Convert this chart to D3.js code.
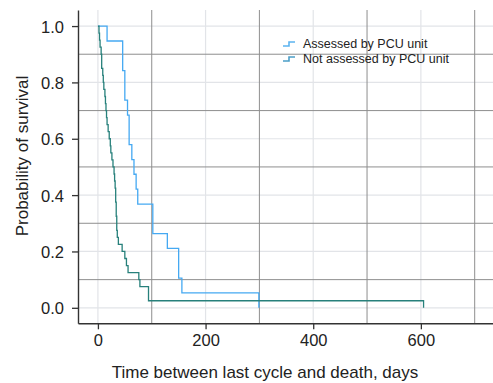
<!DOCTYPE html>
<html lang="en">
<head>
    <meta charset="UTF-8">
    <title>Survival</title>
    <style>
        body { margin: 0; background: #fff; }
        text { font-family: "Liberation Sans", Arial, sans-serif; fill: #222; }
    </style>
</head>
<body>
<script src="https://cdn.jsdelivr.net/npm/d3@7"></script>
<script>
    // Kaplan-Meier steps (day, survival after the step)
    var assessedDays = [0, 17, 46, 50, 55, 58, 63, 67, 71, 74, 102, 129, 150, 156, 299];
    var assessedSurv = [1, 0.947, 0.842, 0.737, 0.684, 0.579, 0.526, 0.474, 0.421, 0.368, 0.263, 0.211, 0.105, 0.053, 0];

    var notAssessedDays = [0, 2, 3, 4, 6, 7, 9, 10, 11, 13, 14, 15, 16, 17, 19, 21, 23, 24, 26, 28, 30, 31, 32, 33, 34, 35, 36, 38, 45, 50, 53, 56, 76, 78, 94, 605];
    var notAssessedSurv = [1, 0.975, 0.95, 0.925, 0.9, 0.85, 0.825, 0.8, 0.775, 0.75, 0.725, 0.7, 0.675, 0.65, 0.625, 0.6, 0.575, 0.55, 0.525, 0.5, 0.475, 0.45, 0.425, 0.375, 0.325, 0.275, 0.25, 0.225, 0.2, 0.175, 0.15, 0.125, 0.1, 0.075, 0.025, 0];

    var seriesNames = ['Assessed by PCU unit', 'Not assessed by PCU unit'];
    var seriesColors = ['#45a9f2', '#27807b'];
    var legendColors = ['#5cb4f0', '#4b9ec8'];

    var xTicks = [0, 200, 400, 600];
    var yTicks = [0, 0.2, 0.4, 0.6, 0.8, 1.0];
    var xLightGrid = [0, 200, 400, 600];
    var xDarkGrid = [100, 300, 500, 700];
    var yDarkGrid = [0.1, 0.3, 0.5, 0.7, 0.9];

    var W = 493, H = 383;
    var pLeft = 78, pRight = 493, pTop = 10, pBottom = 323.3;

    var x = d3.scaleLinear().domain([-37, 734]).range([pLeft, pRight]);
    var y = d3.scaleLinear().domain([-0.055, 1.057]).range([pBottom, pTop]);

    var svg = d3.select('body').append('svg')
        .attr('width', W)
        .attr('height', H);

    // grid
    var grid = svg.append('g');
    grid.selectAll('.vl').data(xLightGrid).enter().append('line')
        .attr('x1', function (d) { return x(d); })
        .attr('x2', function (d) { return x(d); })
        .attr('y1', pTop).attr('y2', pBottom)
        .attr('stroke', '#e2e4e8').attr('stroke-width', 1.2);
    grid.selectAll('.hl').data(yTicks).enter().append('line')
        .attr('x1', pLeft).attr('x2', pRight)
        .attr('y1', function (d) { return y(d); })
        .attr('y2', function (d) { return y(d); })
        .attr('stroke', '#e2e4e8').attr('stroke-width', 1.2);
    grid.selectAll('.vd').data(xDarkGrid).enter().append('line')
        .attr('x1', function (d) { return x(d); })
        .attr('x2', function (d) { return x(d); })
        .attr('y1', pTop).attr('y2', pBottom)
        .attr('stroke', '#8e8e8e').attr('stroke-width', 1);
    grid.selectAll('.hd').data(yDarkGrid).enter().append('line')
        .attr('x1', pLeft).attr('x2', pRight)
        .attr('y1', function (d) { return y(d); })
        .attr('y2', function (d) { return y(d); })
        .attr('stroke', '#8e8e8e').attr('stroke-width', 1);

    // curves
    var line = d3.line()
        .x(function (d) { return x(d[0]); })
        .y(function (d) { return y(d[1]); })
        .curve(d3.curveStepAfter);

    var curves = [
        d3.zip(assessedDays, assessedSurv),
        d3.zip(notAssessedDays, notAssessedSurv)
    ];

    svg.selectAll('.km').data(curves).enter().append('path')
        .attr('d', line)
        .attr('fill', 'none')
        .attr('stroke', function (d, i) { return seriesColors[i]; })
        .attr('stroke-width', 1.3);

    // axes
    var xAxis = svg.append('g')
        .attr('transform', 'translate(0,' + pBottom + ')')
        .call(d3.axisBottom(x).tickValues(xTicks).tickSize(6).tickSizeOuter(0).tickPadding(5));
    var yAxis = svg.append('g')
        .attr('transform', 'translate(' + pLeft + ',0)')
        .call(d3.axisLeft(y).tickValues(yTicks).tickFormat(d3.format('.1f')).tickSize(6).tickSizeOuter(0).tickPadding(8));

    [xAxis, yAxis].forEach(function (a) {
        a.select('.domain').attr('stroke', '#333').attr('stroke-width', 1.4);
        a.selectAll('.tick line').attr('stroke', '#333').attr('stroke-width', 1.3);
        a.selectAll('.tick text')
            .attr('font-family', '"Liberation Sans", Arial, sans-serif')
            .attr('font-size', '16.5px')
            .attr('fill', '#222');
    });
    yAxis.selectAll('.tick text').attr('dy', '0.36em');

    svg.append('text')
        .attr('x', 265)
        .attr('y', 378)
        .attr('text-anchor', 'middle')
        .attr('font-size', '17px')
        .text('Time between last cycle and death, days');

    svg.append('text')
        .attr('transform', 'translate(28,156) rotate(-90)')
        .attr('text-anchor', 'middle')
        .attr('font-size', '17px')
        .text('Probability of survival');

    // legend
    var legend = svg.selectAll('.leg').data(seriesNames).enter().append('g')
        .attr('transform', function (d, i) { return 'translate(283,' + (43 + i * 15) + ')'; });
    legend.append('path')
        .attr('d', 'M0,3 H6 V-1 H12')
        .attr('fill', 'none')
        .attr('stroke', function (d, i) { return legendColors[i]; })
        .attr('stroke-width', 1.6);
    legend.append('text')
        .attr('x', 20)
        .attr('y', 4.5)
        .attr('font-size', '12.5px')
        .text(function (d) { return d; });
</script>
</body>
</html>
